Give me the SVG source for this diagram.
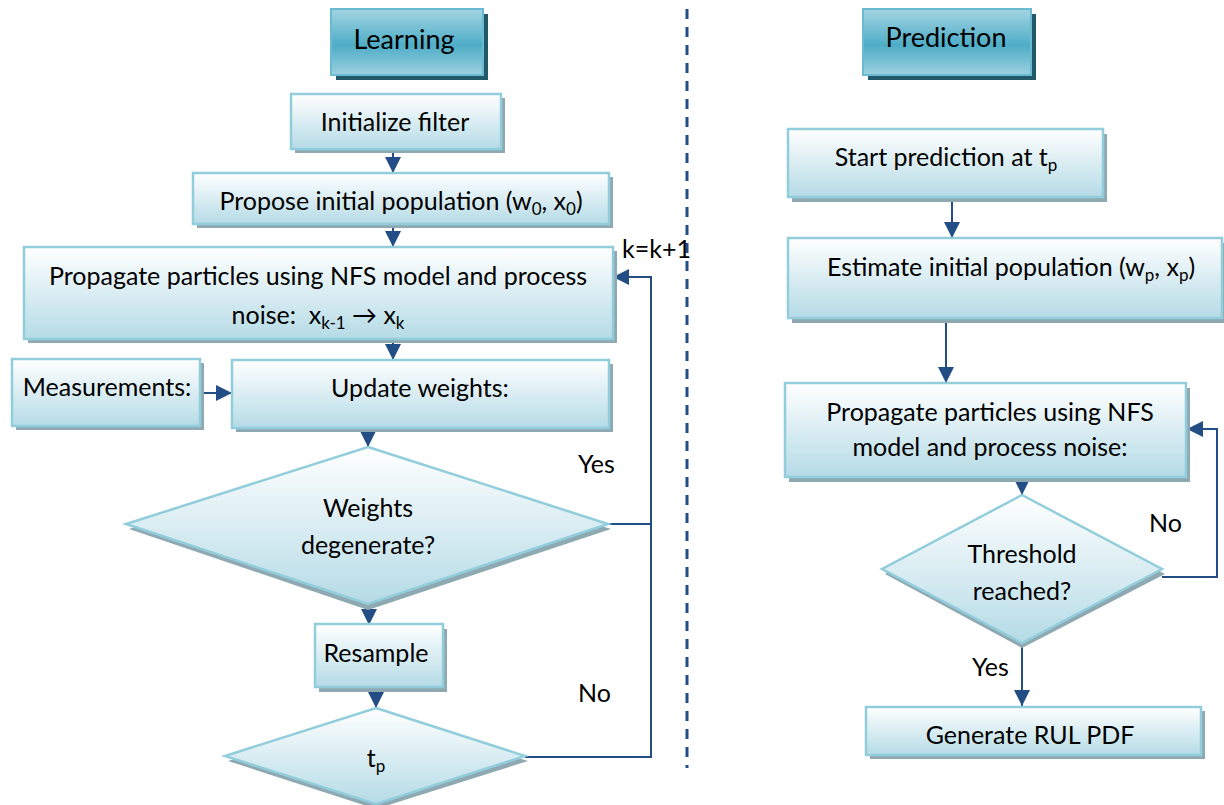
<svg xmlns="http://www.w3.org/2000/svg" width="1224" height="805" viewBox="0 0 1224 805">
<defs>
<linearGradient id="gBox" x1="0" y1="0" x2="0" y2="1">
<stop offset="0" stop-color="#ffffff"/>
<stop offset="1" stop-color="#b5dbe6"/>
</linearGradient>
<linearGradient id="gHead" x1="0" y1="0" x2="0" y2="1">
<stop offset="0" stop-color="#a3d4e2"/>
<stop offset="0.55" stop-color="#4eadc7"/>
<stop offset="1" stop-color="#9dd1e0"/>
</linearGradient>
<marker id="arrB" viewBox="0 0 16 16" refX="16" refY="8" markerWidth="16" markerHeight="16" markerUnits="userSpaceOnUse" orient="auto">
<path d="M0,0 L16,8 L0,16 z" fill="#234d85"/>
</marker>
</defs>
<style>
text{font-family:Lato,"Liberation Sans",sans-serif;font-size:25px;fill:#000;}
.t{text-anchor:middle;}
.h{font-size:27px;}
.box{fill:url(#gBox);stroke:#92cddc;stroke-width:2.5;}
.sh{fill:#8ea9b2;}
.head{fill:url(#gHead);stroke:#6bbbd0;stroke-width:2;}
.hsh{fill:#22596a;}
.ln{fill:none;stroke:#234d85;stroke-width:2;}
.sub{font-size:17px;}
</style>
<rect width="1224" height="805" fill="#ffffff"/>

<g id="divider">
<line x1="687" y1="9" x2="687" y2="768" stroke="#234d85" stroke-width="3" stroke-dasharray="10,8"/>
</g>

<g id="connectors">
<line class="ln" x1="393" y1="152" x2="393" y2="173" marker-end="url(#arrB)"/>
<line class="ln" x1="393" y1="226" x2="393" y2="247" marker-end="url(#arrB)"/>
<line class="ln" x1="393" y1="341" x2="393" y2="360" marker-end="url(#arrB)"/>
<line class="ln" x1="197" y1="393" x2="232" y2="393" marker-end="url(#arrB)"/>
<line class="ln" x1="368" y1="429" x2="368" y2="447" marker-end="url(#arrB)"/>
<line class="ln" x1="369" y1="605" x2="369" y2="625" marker-end="url(#arrB)"/>
<line class="ln" x1="376" y1="690" x2="376" y2="708" marker-end="url(#arrB)"/>
<polyline class="ln" points="608,524 651,524 651,277 613,277" marker-end="url(#arrB)"/>
<polyline class="ln" points="525,757 651,757 651,524"/>
<line class="ln" x1="952" y1="200" x2="952" y2="238" marker-end="url(#arrB)"/>
<line class="ln" x1="946" y1="319" x2="946" y2="383" marker-end="url(#arrB)"/>
<line class="ln" x1="1022" y1="480" x2="1022" y2="495" marker-end="url(#arrB)"/>
<polyline class="ln" points="1162,577 1217,577 1217,429 1187,429" marker-end="url(#arrB)"/>
<line class="ln" x1="1022" y1="643" x2="1022" y2="706" marker-end="url(#arrB)"/>
</g>

<g id="learning">
<rect class="hsh" x="336" y="14" width="152" height="66"/>
<rect class="head" x="331" y="9" width="152" height="66"/>
<text class="t h" x="404" y="49">Learning</text>
</g>

<g id="prediction">
<rect class="hsh" x="868" y="14" width="168" height="66"/>
<rect class="head" x="863" y="9" width="168" height="66"/>
<text class="t h" x="946" y="47">Prediction</text>
</g>

<g id="init">
<rect class="sh" x="295" y="98" width="210" height="55"/>
<rect class="box" x="291" y="94" width="210" height="55"/>
<text class="t" x="395" y="131">Initialize filter</text>
</g>

<g id="propose">
<rect class="sh" x="197" y="177" width="416" height="51"/>
<rect class="box" x="193" y="173" width="416" height="51"/>
<text class="t" x="401" y="210">Propose initial population (w<tspan class="sub" dy="5">0</tspan><tspan dy="-5">, x</tspan><tspan class="sub" dy="5">0</tspan><tspan dy="-5">)</tspan></text>
</g>

<g id="propagate">
<rect class="sh" x="28" y="251" width="589" height="92"/>
<rect class="box" x="24" y="247" width="589" height="92"/>
<text class="t" x="318" y="285">Propagate particles using NFS model and process</text>
<text class="t" x="318" y="324">noise:&#160; x<tspan class="sub" dy="5">k-1</tspan><tspan dy="-5"> → x</tspan><tspan class="sub" dy="5">k</tspan></text>
</g>

<g id="kk1">
<text x="622" y="258">k=k+1</text>
</g>

<g id="measurements">
<rect class="sh" x="16" y="363" width="188" height="67"/>
<rect class="box" x="12" y="359" width="188" height="67"/>
<text class="t" x="107" y="396">Measurements:</text>
</g>

<g id="update">
<rect class="sh" x="236" y="364" width="377" height="68"/>
<rect class="box" x="232" y="360" width="377" height="68"/>
<text class="t" x="420" y="397">Update weights:</text>
</g>

<g id="degenerate">
<polygon class="sh" points="368,452 611,529 368,610 129,529"/>
<polygon class="box" points="368,447 608,524 368,604 126,524"/>
<text class="t" x="368" y="517">Weights</text>
<text class="t" x="368" y="554">degenerate?</text>
</g>

<g id="yes1"><text x="578" y="473">Yes</text></g>

<g id="resample">
<rect class="sh" x="319" y="629" width="128" height="63"/>
<rect class="box" x="315" y="624" width="128" height="63"/>
<text class="t" x="376" y="662">Resample</text>
</g>

<g id="tp">
<polygon class="sh" points="376,713 528,761 376,809 228,761"/>
<polygon class="box" points="376,708 525,756 376,804 225,756"/>
<text class="t" x="376" y="767">t<tspan class="sub" dy="5">p</tspan></text>
</g>

<g id="no1"><text x="578" y="702">No</text></g>

<g id="start">
<rect class="sh" x="792" y="134" width="315" height="68"/>
<rect class="box" x="788" y="129" width="315" height="68"/>
<text class="t" x="946" y="166">Start prediction at t<tspan class="sub" dy="5">p</tspan></text>
</g>

<g id="estimate">
<rect class="sh" x="792" y="243" width="432" height="80"/>
<rect class="box" x="788" y="238" width="434" height="80"/>
<text class="t" x="1011" y="276">Estimate initial population (w<tspan class="sub" dy="5">p</tspan><tspan dy="-5">, x</tspan><tspan class="sub" dy="5">p</tspan><tspan dy="-5">)</tspan></text>
</g>

<g id="propagate2">
<rect class="sh" x="789" y="388" width="401" height="94"/>
<rect class="box" x="785" y="383" width="401" height="94"/>
<text class="t" x="990" y="421">Propagate particles using NFS</text>
<text class="t" x="990" y="456">model and process noise:</text>
</g>

<g id="no2"><text x="1149" y="532">No</text></g>

<g id="threshold">
<polygon class="sh" points="1022,500 1165,574 1022,648 885,574"/>
<polygon class="box" points="1022,495 1162,569 1022,643 882,569"/>
<text class="t" x="1022" y="563">Threshold</text>
<text class="t" x="1022" y="600">reached?</text>
</g>

<g id="yes2"><text x="972" y="676">Yes</text></g>

<g id="rul">
<rect class="sh" x="870" y="711" width="335" height="48"/>
<rect class="box" x="866" y="707" width="335" height="48"/>
<text class="t" x="1030" y="744">Generate RUL PDF</text>
</g>
</svg>
